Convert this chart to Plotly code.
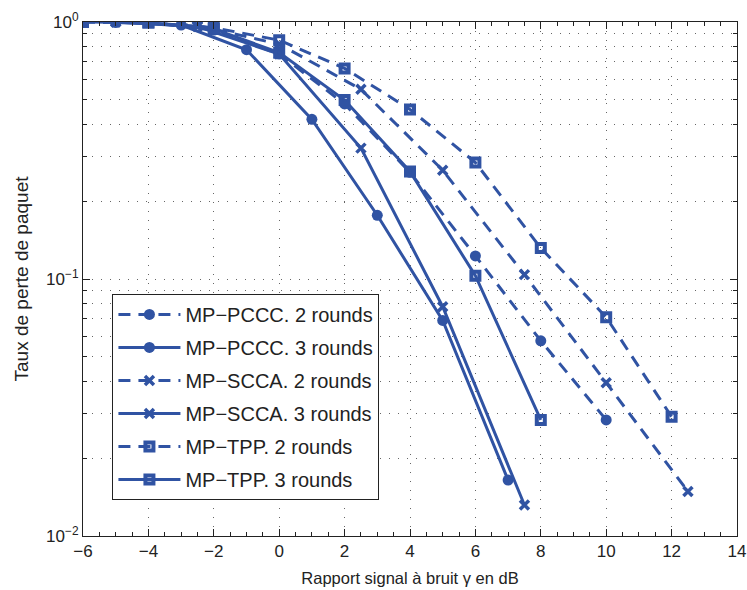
import plotly.graph_objects as go

# ---- data ----
pccc2_x = [-6, -4, -2, 0, 2, 4, 6, 8, 10]
pccc2_y = [1.0, 0.995, 0.93, 0.75, 0.48, 0.26, 0.123, 0.0575, 0.0283]

pccc3_x = [-5, -3, -1, 1, 3, 5, 7]
pccc3_y = [0.995, 0.973, 0.78, 0.418, 0.177, 0.069, 0.0165]

scca2_x = [-5, -2.5, 0, 2.5, 5, 7.5, 10, 12.5]
scca2_y = [1.0, 0.97, 0.82, 0.547, 0.265, 0.104, 0.0395, 0.0149]

scca3_x = [-5, -2.5, 0, 2.5, 5, 7.5]
scca3_y = [1.0, 0.96, 0.75, 0.323, 0.078, 0.0132]

tpp2_x = [-6, -4, -2, 0, 2, 4, 6, 8, 10, 12]
tpp2_y = [1.0, 0.995, 0.95, 0.85, 0.66, 0.457, 0.284, 0.132, 0.071, 0.0291]

tpp3_x = [-6, -4, -2, 0, 2, 4, 6, 8]
tpp3_y = [1.0, 0.995, 0.94, 0.76, 0.497, 0.262, 0.103, 0.0283]

series_names = [
    "MP−PCCC. 2 rounds", "MP−PCCC. 3 rounds",
    "MP−SCCA. 2 rounds", "MP−SCCA. 3 rounds",
    "MP−TPP. 2 rounds", "MP−TPP. 3 rounds",
]

x_tickvals = [-6, -4, -2, 0, 2, 4, 6, 8, 10, 12, 14]
x_ticktext = ["−6", "−4", "−2", "0", "2", "4", "6", "8", "10", "12", "14"]
y_tickvals = [1, 0.1, 0.01]
y_ticktext = ["10<sup>0</sup>", "10<sup>−1</sup>", "10<sup>−2</sup>"]
y_minor = [k * 10 ** e for e in (-2, -1) for k in range(2, 10)]

BLUE = "#3053a3"
INK = "#222222"
FONT = "Liberation Sans, Arial, sans-serif"
DASH = "12px,8px"
GRID_DASH = "1px,8px"
GRID_COLOR = "#666666"

fig = go.Figure()

def add(xs, ys, name, dash, symbol, size, lw, i):
    marker = dict(symbol=symbol, size=size, color=BLUE)
    if lw:
        marker["line"] = dict(width=lw, color=BLUE)
    fig.add_trace(go.Scatter(
        x=xs, y=ys, name=name, mode="lines+markers",
        line=dict(color=BLUE, width=3, dash=dash),
        marker=marker, legendgroup=str(i),
    ))

add(pccc2_x, pccc2_y, series_names[0], DASH, "circle", 11, 0, 0)
add(pccc3_x, pccc3_y, series_names[1], "solid", "circle", 11, 0, 1)
add(scca2_x, scca2_y, series_names[2], DASH, "x-thin", 9, 3.5, 2)
add(scca3_x, scca3_y, series_names[3], "solid", "x-thin", 9, 3.5, 3)
add(tpp2_x, tpp2_y, series_names[4], DASH, "square-open", 8, 4, 4)
add(tpp3_x, tpp3_y, series_names[5], "solid", "square-open", 8, 4, 5)

axis_common = dict(
    showline=True, linecolor=INK, linewidth=1, mirror="ticks",
    ticks="inside", ticklen=7, tickcolor=INK,
    showgrid=True, gridcolor=GRID_COLOR, griddash=GRID_DASH, gridwidth=1,
    zeroline=False, automargin=False,
    tickfont=dict(family=FONT, size=17, color=INK),
)

fig.update_layout(
    width=747, height=590,
    margin=dict(l=83, r=10, t=22, b=54),
    paper_bgcolor="white", plot_bgcolor="white",
    font=dict(family=FONT, size=17, color=INK),
    showlegend=True,
    legend=dict(
        x=0.045, y=0.471, xanchor="left", yanchor="top",
        bgcolor="white", bordercolor=INK, borderwidth=1,
        font=dict(family=FONT, size=20, color=INK),
        itemwidth=62, tracegroupgap=4, traceorder="grouped",
    ),
    xaxis=dict(
        range=[-6, 14], tickvals=x_tickvals, ticktext=x_ticktext,
        minor=dict(dtick=0.5, tick0=0, ticks="inside", ticklen=4,
                   tickcolor=INK, showgrid=False),
        title=dict(text="Rapport signal à bruit γ en dB",
                   font=dict(family=FONT, size=16.5, color=INK), standoff=12),
        **axis_common,
    ),
    yaxis=dict(
        type="log", range=[-2, 0], tickvals=y_tickvals, ticktext=y_ticktext,
        minor=dict(tickvals=y_minor, ticks="inside", ticklen=4,
                   tickcolor=INK, showgrid=True, gridcolor=GRID_COLOR,
                   griddash=GRID_DASH, gridwidth=1),
        title=dict(text="Taux de perte de paquet",
                   font=dict(family=FONT, size=19, color=INK), standoff=12),
        **axis_common,
    ),
)

fig.write_html("out.html",
               config={"displayModeBar": False},
               post_script="document.body.style.margin='0px';document.body.style.overflow='hidden';")
